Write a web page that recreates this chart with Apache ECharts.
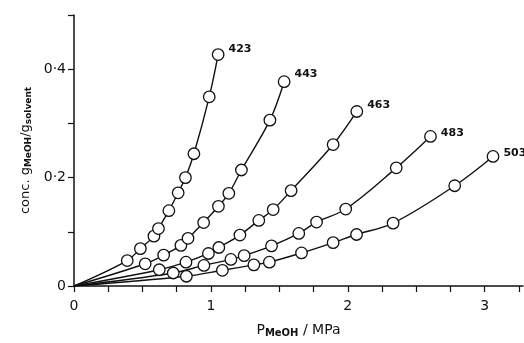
<!DOCTYPE html>
<html>
<head>
<meta charset="utf-8">
<script src="https://cdn.jsdelivr.net/npm/echarts@6/dist/echarts.min.js"></script>
<style>
html,body{margin:0;padding:0;background:#fff;}
#c{width:524px;height:343px;}
</style>
</head>
<body>
<div id="c"></div>
<script>
// Temperatures (K) – series names
const seriesNames = ['423', '443', '463', '483', '503'];

// Pressure p_MeOH / MPa for each isotherm
const x423 = [0.389, 0.485, 0.584, 0.617, 0.693, 0.761, 0.814, 0.876, 0.988, 1.053];
const x443 = [0.520, 0.655, 0.781, 0.833, 0.947, 1.055, 1.131, 1.223, 1.431, 1.535];
const x463 = [0.623, 0.818, 0.982, 1.058, 1.212, 1.350, 1.455, 1.586, 1.893, 2.066];
const x483 = [0.725, 0.949, 1.146, 1.243, 1.443, 1.642, 1.772, 1.985, 2.354, 2.604];
const x503 = [0.821, 1.084, 1.314, 1.427, 1.662, 1.893, 2.064, 2.331, 2.781, 3.061];

// Concentration g_MeOH / g_solvent
const y423 = [0.047, 0.069, 0.092, 0.106, 0.139, 0.172, 0.200, 0.244, 0.349, 0.427];
const y443 = [0.041, 0.057, 0.075, 0.088, 0.117, 0.147, 0.171, 0.214, 0.306, 0.377];
const y463 = [0.030, 0.044, 0.060, 0.071, 0.094, 0.121, 0.141, 0.176, 0.261, 0.322];
const y483 = [0.024, 0.038, 0.049, 0.056, 0.074, 0.097, 0.118, 0.142, 0.218, 0.276];
const y503 = [0.018, 0.029, 0.039, 0.044, 0.061, 0.080, 0.095, 0.116, 0.185, 0.239];

// Curves start at the origin
const origin = [0, 0];

// Tick labels
const xTickValues = [0, 1, 2, 3];
const xTickTexts = ['0', '1', '2', '3'];
const yTickValues = [0, 0.2, 0.4];
const yTickTexts = ['0', '0·2', '0·4'];

const xs = [x423, x443, x463, x483, x503];
const ys = [y423, y443, y463, y483, y503];
const labelDy = [-5, -8, -6, -3, -3];

function lookup(values, texts, v) {
  for (let i = 0; i < values.length; i++) {
    if (Math.abs(values[i] - v) < 1e-6) return texts[i];
  }
  return '';
}

const series = [];
seriesNames.forEach((name, k) => {
  const pts = xs[k].map((x, i) => [x, ys[k][i]]);
  series.push({
    name: name + '-line',
    type: 'line',
    data: [origin].concat(pts),
    smooth: 0.35,
    showSymbol: false,
    symbol: 'none',
    lineStyle: { color: '#111', width: 1.4 },
    z: 2,
    silent: true
  });
  const last = pts.length - 1;
  series.push({
    name: name,
    type: 'scatter',
    symbol: 'circle',
    symbolSize: 11.5,
    itemStyle: { color: '#fff', borderColor: '#111', borderWidth: 1.3, opacity: 1 },
    z: 3,
    data: pts.map((p, i) => i === last ? {
      value: p,
      label: {
        show: true, position: 'right', distance: 4, offset: [0, labelDy[k]],
        formatter: name, color: '#111', fontFamily: 'DejaVu Sans',
        fontSize: 11, fontWeight: 'bold'
      }
    } : p)
  });
});

const chart = echarts.init(document.getElementById('c'), null, { renderer: 'canvas' });
chart.setOption({
  animation: false,
  backgroundColor: '#fff',
  grid: { left: 74, right: 1, top: 15, bottom: 53, containLabel: false },
  xAxis: {
    type: 'value', min: 0, max: 3.28, interval: 0.25,
    splitLine: { show: false },
    axisLine: { show: true, onZero: false, lineStyle: { color: '#111', width: 1.5 } },
    axisTick: { show: true, inside: false, length: 6, lineStyle: { color: '#111', width: 1.2 } },
    axisLabel: {
      color: '#111', fontFamily: 'DejaVu Sans', fontSize: 14, margin: 13,
      showMaxLabel: false,
      formatter: v => lookup(xTickValues, xTickTexts, v)
    },
    name: '{a|P}{s|MeOH}{a| / MPa}',
    nameLocation: 'middle', nameGap: 36,
    nameTextStyle: {
      rich: {
        a: { fontFamily: 'DejaVu Sans', fontSize: 14, color: '#111' },
        s: { fontFamily: 'DejaVu Sans', fontSize: 10, fontWeight: 'bold', color: '#111', verticalAlign: 'bottom', padding: [6, 0, 0, 0] }
      }
    }
  },
  yAxis: {
    type: 'value', min: 0, max: 0.5, interval: 0.1,
    splitLine: { show: false },
    axisLine: { show: true, lineStyle: { color: '#111', width: 1.5 } },
    axisTick: { show: true, inside: false, length: 6, lineStyle: { color: '#111', width: 1.2 } },
    axisLabel: {
      color: '#111', fontFamily: 'DejaVu Sans', fontSize: 14, margin: 8,
      formatter: v => lookup(yTickValues, yTickTexts, v)
    },
    name: '{a|conc. g}{s|MeOH}{a|/g}{s|solvent}',
    nameLocation: 'middle', nameGap: 33, nameRotate: 90,
    nameTextStyle: {
      rich: {
        a: { fontFamily: 'DejaVu Sans', fontSize: 13, color: '#111' },
        s: { fontFamily: 'DejaVu Sans', fontSize: 9, fontWeight: 'bold', color: '#111', padding: [6, 0, 0, 0] }
      }
    }
  },
  series: series
});
</script>
</body>
</html>
